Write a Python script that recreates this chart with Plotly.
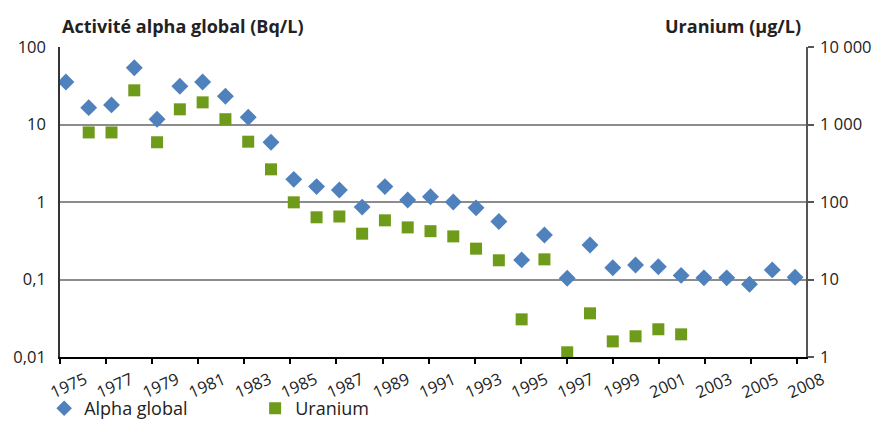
import plotly.graph_objects as go

years = [str(y) for y in range(1975, 2007)] + ["2008"]

alpha_global = [35.3, 16.5, 17.9, 54, 11.7, 31.1, 35.3, 23.1, 12.4, 5.9,
                1.96, 1.58, 1.43, 0.86, 1.58, 1.06, 1.17, 1.0, 0.84, 0.56,
                0.179, 0.375, 0.104, 0.279, 0.142, 0.154, 0.146, 0.113, 0.105, 0.105,
                0.087, 0.133, 0.107]

uranium = [None, 790, 790, 2760, 590, 1570, 1930, 1170, 600, 264,
           99, 63.5, 65, 39, 58, 47, 42, 36, 25, 17.7,
           3.06, 18.2, 1.15, 3.66, 1.59, 1.85, 2.28, 1.96, None, None,
           None, None, None]

x_tick_labels = years[::2]
left_tickvals = [0.01, 0.1, 1, 10, 100]
left_ticktext = ["0,01", "0,1", "1", "10", "100"]
right_tickvals = [1, 10, 100, 1000, 10000]
right_ticktext = ["1", "10", "100", "1 000", "10 000"]

FONT = "Open Sans"
TXT = "#222222"
TICK_SIZE = 16.5

# tick marks sit on the category boundaries (every two categories), as in the reference
tick_positions = [2.0224 * k - 0.263 for k in range(len(x_tick_labels))]

fig = go.Figure()
fig.add_trace(go.Scatter(
    x=years, y=alpha_global, mode="markers", name="Alpha global",
    marker=dict(symbol="diamond", size=13, color="#4F81BD"),
    yaxis="y"))
fig.add_trace(go.Scatter(
    x=years, y=uranium, mode="markers", name="Uranium",
    marker=dict(symbol="square", size=12, color="#6E9B1A"),
    yaxis="y2"))

fig.update_layout(
    width=883, height=423,
    margin=dict(l=60, r=77, t=47, b=66),
    paper_bgcolor="white", plot_bgcolor="white",
    font=dict(family=FONT, size=TICK_SIZE, color=TXT),
    showlegend=True,
    legend=dict(orientation="h", xref="container", yref="container",
                x=0.050, xanchor="left", y=0.078, yanchor="top",
                font=dict(size=18, color=TXT), entrywidth=166, entrywidthmode="pixels",
                itemsizing="constant", bgcolor="rgba(0,0,0,0)"),
    xaxis=dict(type="category", categoryorder="array", categoryarray=years,
               range=[-0.26, 32.48], tickmode="array",
               tickvals=tick_positions, ticktext=x_tick_labels,
               tickangle=-24, ticks="outside", ticklen=5, tickwidth=2, tickcolor="black",
               ticklabelshift=25,
               showline=True, linecolor="black", linewidth=2, showgrid=False,
               zeroline=False, automargin=False, fixedrange=True,
               tickfont=dict(size=TICK_SIZE, color=TXT)),
    yaxis=dict(type="log", range=[-2, 2], tickmode="array",
               tickvals=left_tickvals, ticktext=left_ticktext,
               showline=True, linecolor="#333333", linewidth=1.5,
               showgrid=True, gridcolor="#8c8c8c", gridwidth=1.5,
               ticks="", ticklabelstandoff=9, zeroline=False, automargin=False,
               tickfont=dict(size=TICK_SIZE, color=TXT)),
    yaxis2=dict(type="log", range=[0, 4], overlaying="y", side="right",
                tickmode="array", tickvals=right_tickvals, ticktext=right_ticktext,
                showline=True, linecolor="#555555", linewidth=1.5,
                showgrid=False, ticks="outside", ticklen=6, tickcolor="#555555",
                tickwidth=1.5, ticklabelstandoff=3, zeroline=False, automargin=False,
                tickfont=dict(size=TICK_SIZE, color=TXT)),
    annotations=[
        dict(text="<b>Activité alpha global (Bq/L)</b>", xref="paper", yref="paper",
             x=0, y=1, xanchor="left", yanchor="bottom", yshift=7, showarrow=False,
             font=dict(size=18, color=TXT, family=FONT)),
        dict(text="<b>Uranium (µg/L)</b>", xref="paper", yref="paper",
             x=1, y=1, xanchor="right", yanchor="bottom", xshift=-3, yshift=7, showarrow=False,
             font=dict(size=18, color=TXT, family=FONT)),
    ],
)

fig.write_html("out.html", config={"displayModeBar": False},
               post_script="document.body.style.margin='0';")
